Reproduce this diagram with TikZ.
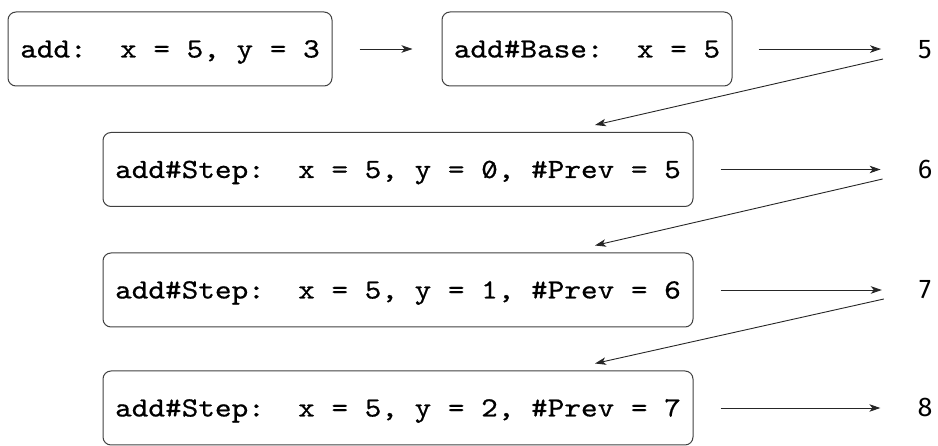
\documentclass[tikz,border=0pt]{standalone}
\usepackage{fontspec}
\setmonofont{lmmono10-regular.otf}[FakeStretch=1.14,FakeBold=0.6]
\newfontfamily\numfont{Fira Sans}
\usetikzlibrary{arrows.meta,calc}
\newcommand\szero{\ooalign{0\cr\hidewidth\raisebox{0.06em}{\scalebox{0.8}[0.72]{/}}\hidewidth\cr}}
\begin{document}
\begin{tikzpicture}[x=1pt,y=-1pt,
  box/.style={draw=black!75, line width=1pt, rounded corners=8pt, minimum height=74pt,
    inner sep=0pt, font=\fontsize{27.8}{33}\selectfont\ttfamily, text height=17pt, text depth=0pt},
  num/.style={inner sep=0pt, font=\fontsize{27}{32}\selectfont\numfont, text height=18pt, text depth=0pt},
  arr/.style={line width=0.9pt, draw=black!85, -{Stealth[length=11pt,width=7.5pt,inset=3pt]}}]
\useasboundingbox (0,0) rectangle (938,446);
\node[box, minimum width=324pt] (b1) at (170,49) {add:\ \ x = 5, y = 3};
\node[box, minimum width=290pt] (b2) at (587,49) {add\#Base:\ \ x = 5};
\node[box, minimum width=590pt] (b3) at (398,169.5) {add\#Step:\ \ x = 5, y = \szero, \#Prev = 5};
\node[box, minimum width=590pt] (b4) at (398,290) {add\#Step:\ \ x = 5, y = 1, \#Prev = 6};
\node[box, minimum width=590pt] (b5) at (398,408) {add\#Step:\ \ x = 5, y = 2, \#Prev = 7};
\node[num] (n1) at (925,50) {5};
\node[num] (n2) at (925,170) {6};
\node[num] (n3) at (925,290) {7};
\node[num] (n4) at (925,408) {8};
\draw[arr, shorten <=27pt, shorten >=29pt] (b1.east) -- (b2.west);
\draw[arr, shorten <=26pt, shorten >=37pt] (b2.east) -- (n1.west |- b2.east);
\draw[arr, shorten <=27pt, shorten >=37pt] (b3.east) -- (n2.west |- b3.east);
\draw[arr, shorten <=27pt, shorten >=37pt] (b4.east) -- (n3.west |- b4.east);
\draw[arr, shorten <=27pt, shorten >=37pt] (b5.east) -- (n4.west |- b5.east);
\draw[arr] ($(n1.west)+(-35,9)$) -- ($(b3.north)+(197,-7)$);
\draw[arr] ($(n2.west)+(-35,9)$) -- ($(b4.north)+(197,-7)$);
\draw[arr] ($(n3.west)+(-35,9)$) -- ($(b5.north)+(197,-7)$);
\end{tikzpicture}
\end{document}
